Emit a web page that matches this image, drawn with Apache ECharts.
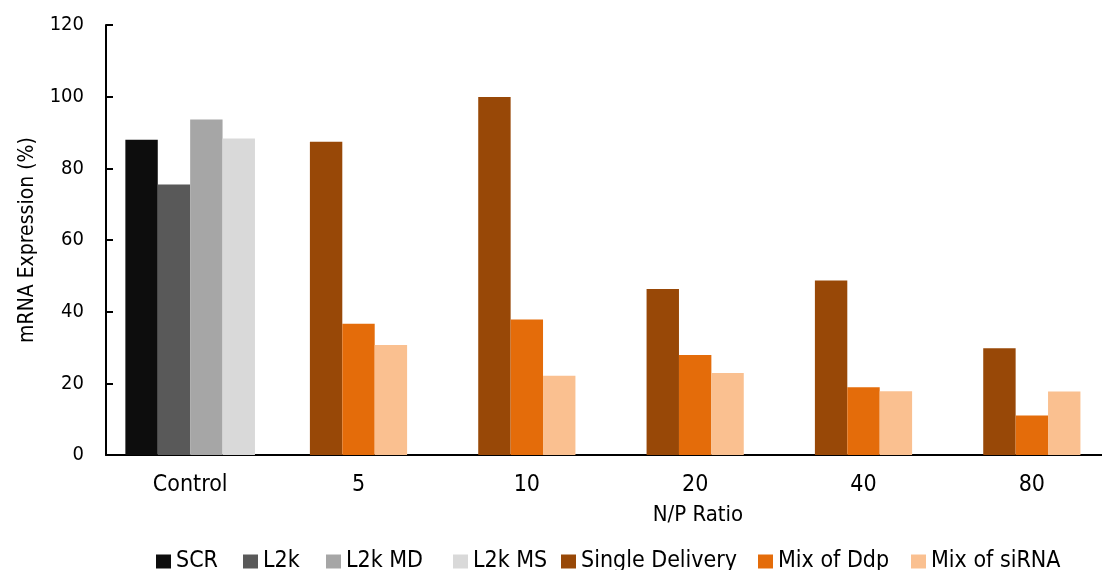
<!DOCTYPE html>
<html>
<head>
<meta charset="utf-8">
<script src="https://cdn.jsdelivr.net/npm/echarts@6/dist/echarts.min.js"></script>
<style>
html,body{margin:0;padding:0;background:#fff;}
#chart{width:1102px;height:570px;}
</style>
</head>
<body>
<div id="chart"></div>
<script>
var categories = ['Control', '5', '10', '20', '40', '80'];
var yTicks = [0, 20, 40, 60, 80, 100, 120];
var seriesNames = ['SCR', 'L2k', 'L2k MD', 'L2k MS', 'Single Delivery', 'Mix of Ddp', 'Mix of siRNA'];

var scr = [88, null, null, null, null, null];
var l2k = [75.5, null, null, null, null, null];
var l2kMD = [93.6, null, null, null, null, null];
var l2kMS = [88.3, null, null, null, null, null];
var singleDelivery = [null, 87.4, 99.9, 46.3, 48.7, 29.8];
var mixDdp = [null, 36.6, 37.8, 27.9, 18.9, 11.0];
var mixSiRNA = [null, 30.7, 22.1, 22.9, 17.8, 17.7];

var FONT = "'DejaVu Sans Condensed', 'DejaVu Sans', sans-serif";
var BW = 32.4;
var legendLefts = [156, 243, 326, 453, 561, 758, 911];

function bar(name, data, color, axis) {
  return {
    name: name, type: 'bar', data: data, xAxisIndex: axis,
    barWidth: BW, barGap: '0%',
    itemStyle: { color: color },
    emphasis: { disabled: true }
  };
}

var legends = seriesNames.map(function (n, i) {
  return {
    left: legendLefts[i], top: 550,
    itemWidth: 15, itemHeight: 14, itemGap: 0, padding: 0,
    icon: 'rect',
    textStyle: { fontFamily: FONT, fontSize: 23, color: '#000' },
    data: [n]
  };
});

var chart = echarts.init(document.getElementById('chart'), null, { renderer: 'canvas' });
chart.setOption({
  animation: false,
  backgroundColor: '#fff',
  textStyle: { fontFamily: FONT, color: '#000' },
  grid: { left: 106, top: 25, width: 1010, height: 430, containLabel: false, outerBoundsMode: 'none' },
  legend: legends,
  xAxis: [{
    type: 'category', data: categories, position: 'bottom',
    axisLine: { lineStyle: { color: '#000', width: 2 } },
    axisTick: { show: false },
    axisLabel: { fontFamily: FONT, fontSize: 23, color: '#000', margin: 19 },
    splitLine: { show: false }
  }, {
    type: 'category', data: categories, position: 'bottom', show: false
  }],
  yAxis: {
    type: 'value', min: yTicks[0], max: yTicks[yTicks.length - 1], interval: 20,
    name: 'mRNA Expression (%)', nameLocation: 'middle', nameGap: 68,
    nameTextStyle: { fontFamily: FONT, fontSize: 21, color: '#000' },
    axisLine: { show: true, lineStyle: { color: '#000', width: 2 } },
    axisTick: { show: true, inside: true, length: 7, lineStyle: { color: '#000', width: 2 } },
    axisLabel: { fontFamily: FONT, fontSize: 20, color: '#000', margin: 22 },
    splitLine: { show: false }
  },
  graphic: [{
    type: 'text', x: 698, y: 515,
    style: { text: 'N/P Ratio', font: '22px ' + FONT, fill: '#000', textAlign: 'center', textVerticalAlign: 'middle' }
  }],
  series: [
    bar(seriesNames[0], scr, '#0d0d0d', 0),
    bar(seriesNames[1], l2k, '#595959', 0),
    bar(seriesNames[2], l2kMD, '#a6a6a6', 0),
    bar(seriesNames[3], l2kMS, '#d9d9d9', 0),
    bar(seriesNames[4], singleDelivery, '#984807', 1),
    bar(seriesNames[5], mixDdp, '#e46c0a', 1),
    bar(seriesNames[6], mixSiRNA, '#fac090', 1)
  ]
});
</script>
</body>
</html>
